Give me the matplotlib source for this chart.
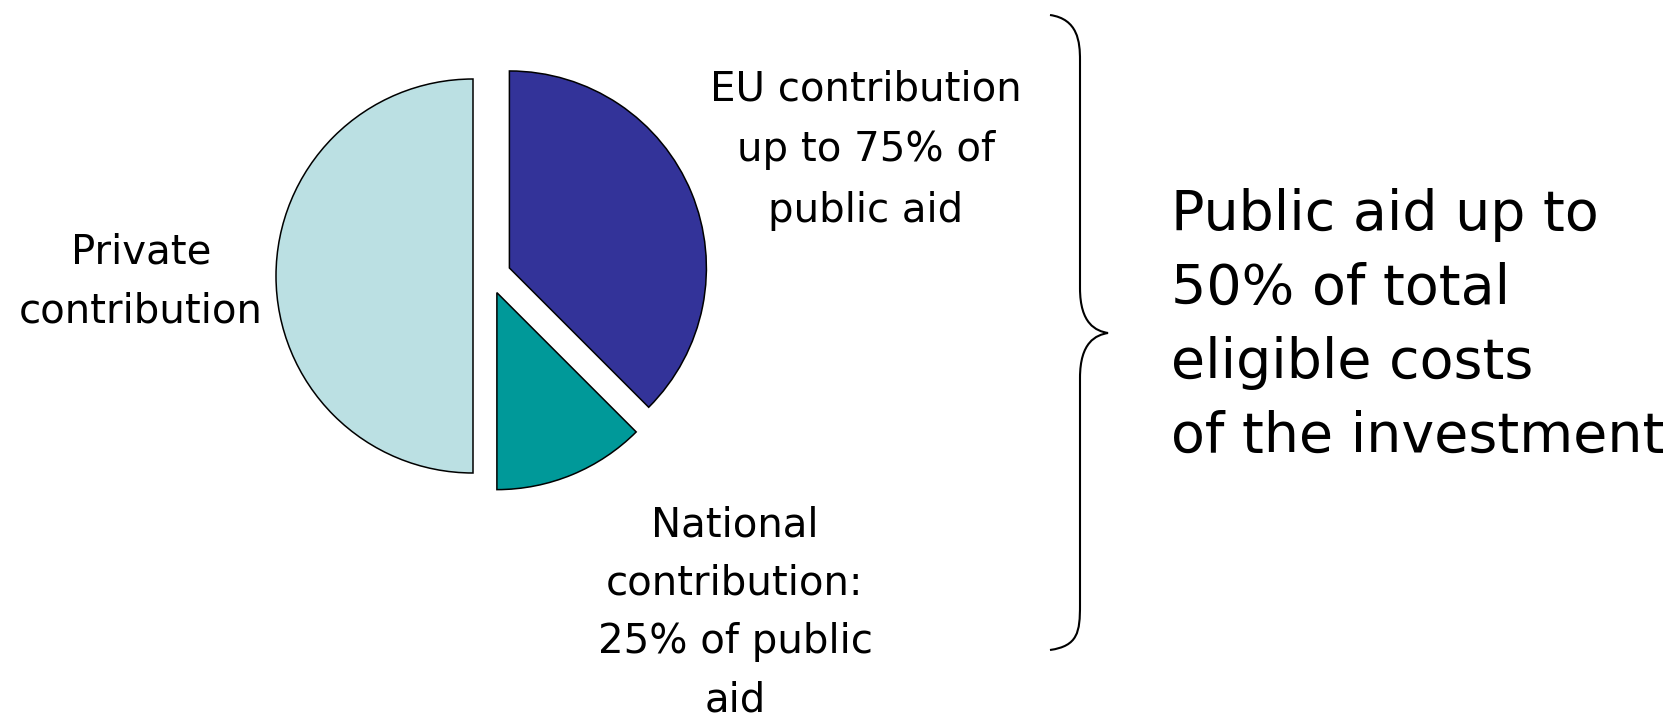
import matplotlib
matplotlib.use('Agg')
import matplotlib.pyplot as plt
from matplotlib.path import Path
from matplotlib.patches import PathPatch

# ── Дані ──────────────────────────────────────────────────────────────────────
shares  = [37.5, 12.5, 50.0]          # EU, National, Private (% of total cost)
colors  = ['#333399', '#009999', '#BBE0E3']
explode = [21, 18, 17]                # зсув секторів, у пікселях

eu_label       = 'EU contribution\nup to 75% of\npublic aid'
national_label = 'National\ncontribution:\n25% of public\naid'
private_label  = 'Private\ncontribution'
summary_label  = 'Public aid up to\n50% of total\neligible costs\nof the investment'

W, H = 1670, 722

fig = plt.figure(figsize=(W / 100, H / 100), dpi=100)
fig.patch.set_facecolor('white')
ax = fig.add_axes([0, 0, 1, 1])

# ── Кругова діаграма ──────────────────────────────────────────────────────────
ax.pie(shares, colors=colors, explode=explode, startangle=90,
       counterclock=False, center=(490, H - 276), radius=197,
       wedgeprops=dict(edgecolor='black', linewidth=1.1))

ax.set_xlim(0, W)
ax.set_ylim(0, H)
ax.set_aspect('equal')
ax.axis('off')

txt = dict(fontsize=29, color='black', family='DejaVu Sans',
           ha='center', va='center', multialignment='center')
ax.text(866, H - 150, eu_label, linespacing=1.67, **txt)
ax.text(141, H - 282, private_label, linespacing=1.6, **txt)
ax.text(735, H - 613, national_label, linespacing=1.6, **txt)

ax.text(1171, H - 326, summary_label, fontsize=40, color='black',
        family='DejaVu Sans', ha='left', va='center',
        multialignment='left', linespacing=1.47)

# ── Фігурна дужка ─────────────────────────────────────────────────────────────
def brace(x0, x1, xt, y_top, y_mid, y_bot, ry=45):
    verts = [
        (x0, y_top), (x1 - 2, y_top - 4), (x1, y_top - ry * 0.6), (x1, y_top - ry),
        (x1, y_mid + ry),
        (x1, y_mid + ry * 0.2), (xt - 12, y_mid + 2), (xt, y_mid),
        (xt - 12, y_mid - 2), (x1, y_mid - ry * 0.2), (x1, y_mid - ry),
        (x1, y_bot + ry),
        (x1, y_bot + ry * 0.4), (x1 - 2, y_bot + 4), (x0, y_bot),
    ]
    codes = [Path.MOVETO, Path.CURVE4, Path.CURVE4, Path.CURVE4,
             Path.LINETO,
             Path.CURVE4, Path.CURVE4, Path.CURVE4,
             Path.CURVE4, Path.CURVE4, Path.CURVE4,
             Path.LINETO,
             Path.CURVE4, Path.CURVE4, Path.CURVE4]
    return PathPatch(Path(verts, codes), facecolor='none',
                     edgecolor='black', linewidth=1.5)

ax.add_patch(brace(1050, 1080, 1108, H - 15, H - 333, H - 650))

fig.savefig('out.png', dpi=100, facecolor='white')
